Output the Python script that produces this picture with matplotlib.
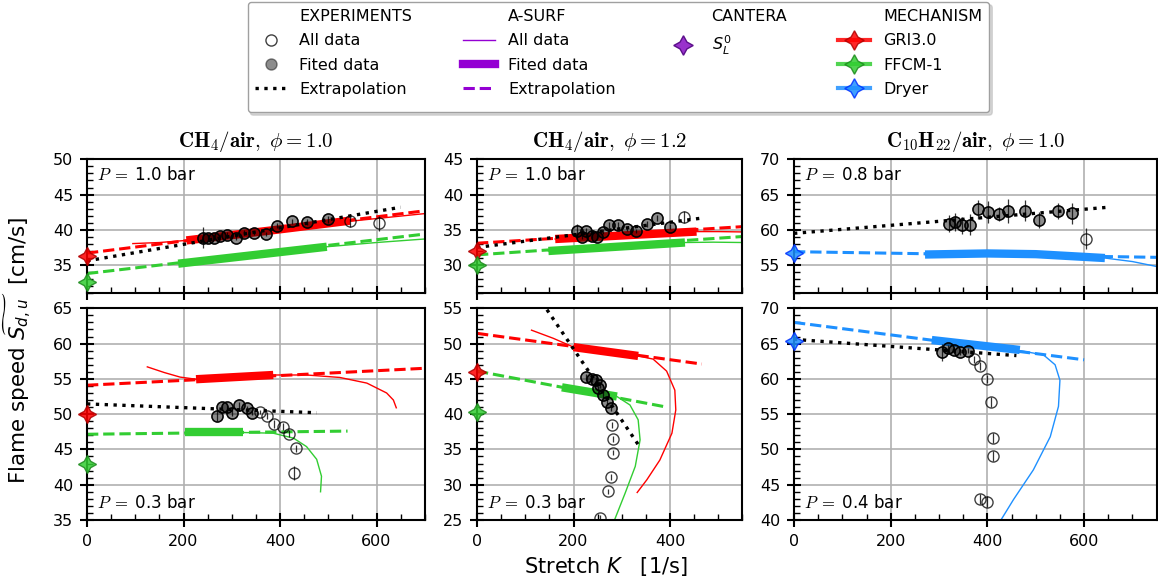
import matplotlib.pyplot as plt
from matplotlib.lines import Line2D
from matplotlib.ticker import MultipleLocator

plt.rcParams['font.family'] = 'DejaVu Sans'
plt.rcParams['font.size'] = 11.5

# ---- layout / labels ----
titles = [r'$\mathbf{CH_4/air},\ \phi=\mathbf{1.0}$',
          r'$\mathbf{CH_4/air},\ \phi=\mathbf{1.2}$',
          r'$\mathbf{C_{10}H_{22}/air},\ \phi=\mathbf{1.0}$']
pressures = ['1.0', '1.0', '0.8', '0.3', '0.3', '0.4']
xmax = [700, 550, 750]
ylims = [(31, 50), (26, 45), (51, 70), (35, 65), (25, 55), (40, 70)]

mech_names = ['GRI3.0', 'FFCM-1', 'Dryer']
mech_colors = ['#ff0000', '#32cd32', '#1e90ff']
mech_edges = ['#b00000', '#1e8a1e', '#0030ff']
panel_mechs = [[0, 1], [0, 1], [2], [0, 1], [0, 1], [2]]

# ---- experiments (fitted points first, then the rest) ----
exp_K = [
    [240, 251, 263, 276, 291, 308, 325, 347, 370, 393, 424, 455, 500, 545, 605],
    [207, 217, 225, 238, 248, 261, 274, 293, 310, 330, 352, 374, 401, 430],
    [321, 333, 347, 364, 381, 402, 423, 443, 478, 507, 547, 574, 603],
    [269, 279, 290, 300, 316, 331, 343, 359, 374, 388, 407, 419, 433, 429],
    [225, 238, 247, 255, 250, 262, 270, 278, 279, 281, 281, 278, 272, 255],
    [307, 319, 331, 343, 359, 373, 385, 399, 407, 412, 412, 385, 399],
]
exp_S = [
    [38.9, 38.8, 38.9, 39.1, 39.3, 38.9, 39.6, 39.5, 39.4, 40.6, 41.2, 41.1, 41.5, 41.3, 40.9],
    [34.85, 34.05, 34.9, 34.15, 33.95, 34.75, 35.65, 35.7, 35.1, 34.85, 35.85, 36.65, 35.45, 36.8],
    [60.85, 61.15, 60.65, 60.7, 62.9, 62.5, 62.25, 62.7, 62.7, 61.4, 62.7, 62.35, 58.75],
    [49.8, 51.05, 51.0, 50.2, 51.3, 50.85, 50.2, 50.35, 49.8, 48.6, 48.2, 47.2, 45.15, 41.6],
    [45.25, 44.95, 44.85, 44.15, 43.65, 42.7, 41.7, 40.85, 38.45, 36.45, 34.55, 31.05, 29.05, 25.25],
    [63.75, 64.35, 64.1, 63.8, 64.0, 62.8, 61.85, 59.95, 56.7, 51.65, 49.1, 42.95, 42.6],
]
exp_err = [
    [1.5, 0.4, 0.3, 0.3, 0.4, 0.3, 0.4, 0.3, 0.3, 0.4, 0.4, 0.4, 0.5, 0.9, 1.0],
    [1.0, 0.3, 0.4, 0.3, 0.3, 0.3, 0.4, 0.4, 0.3, 0.3, 0.4, 0.4, 0.4, 0.9],
    [1.2, 1.3, 1.2, 1.5, 1.4, 1.6, 1.0, 1.7, 1.5, 1.1, 1.1, 1.5, 1.5],
    [0.8, 0.4, 0.3, 0.4, 0.4, 0.3, 0.3, 0.3, 0.5, 0.6, 0.5, 0.5, 0.5, 1.0],
    [0.5, 0.4, 0.4, 0.4, 0.4, 0.4, 0.4, 0.4, 0.4, 0.4, 0.4, 0.4, 0.4, 0.4],
    [1.2, 0.5, 0.4, 0.4, 0.4, 0.5, 0.6, 0.6, 0.7, 0.7, 0.7, 0.7, 0.8],
]
n_fit = [13, 13, 12, 7, 8, 5]
exp_ext_K = [[0, 650], [0, 470], [0, 650], [0, 476], [145, 335], [0, 460]]
exp_ext_S = [[35.6, 43.2], [32.5, 36.7], [59.5, 63.2], [51.45, 50.2], [54.8, 35.6], [65.6, 63.3]]

# ---- CANTERA unstretched flame speed, keyed (panel, mechanism) ----
sl0 = {(0, 0): 36.3, (0, 1): 32.6, (1, 0): 32.0, (1, 1): 30.0, (2, 2): 56.7,
       (3, 0): 50.0, (3, 1): 43.0, (4, 0): 46.0, (4, 1): 40.3, (5, 2): 65.4}

# ---- A-SURF: all data (thin), fitted range (thick), extrapolation (dashed) ----
asurf_K = {
    (0, 0): [95, 150, 206, 300, 400, 500, 600, 700],
    (0, 1): [189, 497, 600, 700],
    (1, 0): [162, 455, 500, 550],
    (1, 1): [148, 431, 490, 550],
    (2, 2): [271, 400, 500, 643, 700, 750],
    (3, 0): [125, 160, 193, 226, 386, 455, 524, 580, 621, 635, 641],
    (3, 1): [203, 323, 386, 428, 455, 476, 486, 484],
    (4, 0): [113, 158, 200, 334, 365, 393, 410, 412, 404, 379, 352, 332],
    (4, 1): [176, 290, 317, 334, 338, 328, 307, 285],
    (5, 2): [285, 467, 516, 540, 550, 547, 530, 495, 454, 428],
}
asurf_S = {
    (0, 0): [38.05, 38.2, 38.5, 39.3, 40.1, 40.9, 41.6, 42.3],
    (0, 1): [35.2, 37.6, 38.2, 38.7],
    (1, 0): [33.7, 34.75, 34.75, 34.7],
    (1, 1): [32.0, 33.2, 33.25, 33.2],
    (2, 2): [56.5, 56.65, 56.55, 56.0, 55.5, 54.8],
    (3, 0): [56.7, 55.9, 55.25, 54.95, 55.55, 55.55, 55.2, 54.4, 53.0, 52.0, 50.9],
    (3, 1): [47.4, 47.4, 47.3, 46.6, 45.4, 43.6, 41.2, 39.0],
    (4, 0): [51.9, 50.75, 49.5, 48.25, 47.8, 46.1, 43.4, 40.6, 37.3, 33.5, 30.7, 28.9],
    (4, 1): [43.8, 42.5, 41.3, 39.2, 36.35, 32.6, 28.8, 25.0],
    (5, 2): [65.5, 64.0, 63.4, 62.0, 59.8, 56.1, 51.8, 47.1, 42.9, 40.0],
}
fit_K = {(0, 0): [206, 380, 545], (0, 1): [189, 497], (1, 0): [162, 455],
         (1, 1): [148, 431], (2, 2): [271, 400, 500, 643], (3, 0): [226, 386],
         (3, 1): [203, 323], (4, 0): [200, 334], (4, 1): [176, 290], (5, 2): [285, 467]}
fit_S = {(0, 0): [38.5, 39.9, 41.3], (0, 1): [35.2, 37.6], (1, 0): [33.7, 34.75],
         (1, 1): [32.0, 33.2], (2, 2): [56.5, 56.65, 56.55, 56.0], (3, 0): [54.95, 55.55],
         (3, 1): [47.4, 47.4], (4, 0): [49.5, 48.25], (4, 1): [43.8, 42.5], (5, 2): [65.5, 64.1]}
ext_K = {(0, 0): [0, 700], (0, 1): [0, 700], (1, 0): [0, 550], (1, 1): [0, 550],
         (2, 2): [0, 750], (3, 0): [0, 700], (3, 1): [0, 540], (4, 0): [0, 466],
         (4, 1): [0, 393], (5, 2): [0, 600]}
ext_S = {(0, 0): [36.7, 42.7], (0, 1): [33.8, 39.4], (1, 0): [33.1, 35.45],
         (1, 1): [31.45, 34.05], (2, 2): [56.9, 56.1], (3, 0): [54.1, 56.5],
         (3, 1): [47.15, 47.6], (4, 0): [51.45, 47.1], (4, 1): [46.1, 41.0], (5, 2): [68.0, 62.7]}

W, H = 1158, 580
fig = plt.figure(figsize=(W / 100, H / 100), dpi=100)

col_left = [87, 477, 794]
col_scale = [0.4825, 0.4825, 0.4835]
row_top = [159.3, 308.3]
row_h = [134.0, 211.7]

star = (4, 1, 0)
for p in range(6):
    r, c = divmod(p, 3)
    w = xmax[c] * col_scale[c]
    ax = fig.add_axes([col_left[c] / W, 1 - (row_top[r] + row_h[r]) / H, w / W, row_h[r] / H])

    for m in panel_mechs[p]:
        col = mech_colors[m]
        ax.plot(asurf_K[(p, m)], asurf_S[(p, m)], color=col, lw=1.0, zorder=2)
        ax.plot(fit_K[(p, m)], fit_S[(p, m)], color=col, lw=6, solid_capstyle='butt', zorder=2)
        ax.plot(ext_K[(p, m)], ext_S[(p, m)], color=col, lw=2.2, ls='--', zorder=2)
        ax.plot([0], [sl0[(p, m)]], ls='none', marker=star, ms=13, mfc=col, mec=mech_edges[m],
                mew=1, alpha=0.85, clip_on=False, zorder=6)

    K, S, e, n = exp_K[p], exp_S[p], exp_err[p], n_fit[p]
    ax.errorbar(K, S, yerr=e, fmt='none', ecolor=(0, 0, 0, 0.8), elinewidth=0.9, zorder=3)
    ax.plot(K, S, 'o', ms=8, mfc='none', mec=(0, 0, 0, 0.75), mew=1.0, zorder=3)
    ax.plot(K[:n], S[:n], 'o', ms=8, mfc=(0, 0, 0, 0.45), mec=(0, 0, 0, 0.85), mew=1.0, zorder=3)
    ax.plot(exp_ext_K[p], exp_ext_S[p], color='k', ls=':', lw=2.4, zorder=4)

    ax.set_xlim(0, xmax[c])
    ax.set_ylim(*ylims[p])
    ax.xaxis.set_major_locator(MultipleLocator(200))
    ax.xaxis.set_minor_locator(MultipleLocator(50))
    ax.yaxis.set_major_locator(MultipleLocator(5))
    ax.yaxis.set_minor_locator(MultipleLocator(1))
    ax.tick_params(which='major', direction='inout', length=10, width=1.5, pad=5, labelsize=11.5)
    ax.tick_params(which='minor', direction='in', length=4.5, width=1.0)
    for sp in ax.spines.values():
        sp.set_linewidth(1.5)
    ax.grid(True, which='major', color='#b0b0b0', lw=1.2)
    ax.set_axisbelow(True)
    ptxt = r'$P\;=\;$' + pressures[p] + ' bar'
    if r == 0:
        ax.tick_params(labelbottom=False)
        ax.annotate(ptxt, xy=(0, 1), xycoords='axes fraction',
                    xytext=(7, -5), textcoords='offset points', va='top', ha='left',
                    fontsize=12, math_fontfamily='cm')
    else:
        ax.annotate(ptxt, xy=(0, 0), xycoords='axes fraction',
                    xytext=(7, 8.5), textcoords='offset points', va='baseline', ha='left',
                    fontsize=12, math_fontfamily='cm')

for c in range(3):
    xc = col_left[c] + xmax[c] * col_scale[c] / 2
    fig.text(xc / W, 1 - 141.7 / H, titles[c], ha='center', va='center', fontsize=15,
             math_fontfamily='cm')

fig.text(18 / W, 1 - 350 / H, r'Flame speed $\widetilde{S_{d,u}}$  [cm/s]', rotation=90,
         rotation_mode='anchor', ha='center', va='center', fontsize=15.5)
fig.text(606 / W, 1 - 566 / H, r'Stretch $K$   [1/s]', ha='center', va='center', fontsize=15)

# ---- legend ----
purple = '#9400d3'
blank = Line2D([], [], ls='none')
handles = [
    blank,
    Line2D([], [], ls='none', marker='o', ms=8, mfc='none', mec=(0, 0, 0, 0.75)),
    Line2D([], [], ls='none', marker='o', ms=8, mfc=(0, 0, 0, 0.45), mec=(0, 0, 0, 0.45)),
    Line2D([], [], color='k', ls=':', lw=2.4),
    blank,
    Line2D([], [], color=purple, lw=1.0),
    Line2D([], [], color=purple, lw=6),
    Line2D([], [], color=purple, lw=2.2, ls='--'),
    blank,
    Line2D([], [], ls='none', marker=star, ms=14, mfc='#9932cc', mec='#5b0f8a', mew=1),
    blank,
    blank,
    blank,
]
for m in range(3):
    handles.append(Line2D([], [], color=mech_colors[m], lw=3, alpha=0.85, marker=star, ms=14,
                          mfc=mech_colors[m], mec=mech_edges[m], mew=1))
labels = ['EXPERIMENTS', 'All data', 'Fited data', 'Extrapolation',
          'A-SURF', 'All data', 'Fited data', 'Extrapolation',
          'CANTERA', r'$S_L^0$', '', '',
          'MECHANISM'] + mech_names

fig.legend(handles, labels, ncol=4, loc='upper center', bbox_to_anchor=(618.5 / W, 1 - 2 / H),
           fontsize=11.5, labelspacing=0.58, columnspacing=3.2, handlelength=2.0,
           handletextpad=0.8, borderpad=0.45, borderaxespad=0, frameon=True, fancybox=True,
           shadow={'shade': 0.3}, edgecolor='#a0a0a0', framealpha=1)

plt.savefig('out.png', dpi=100)
